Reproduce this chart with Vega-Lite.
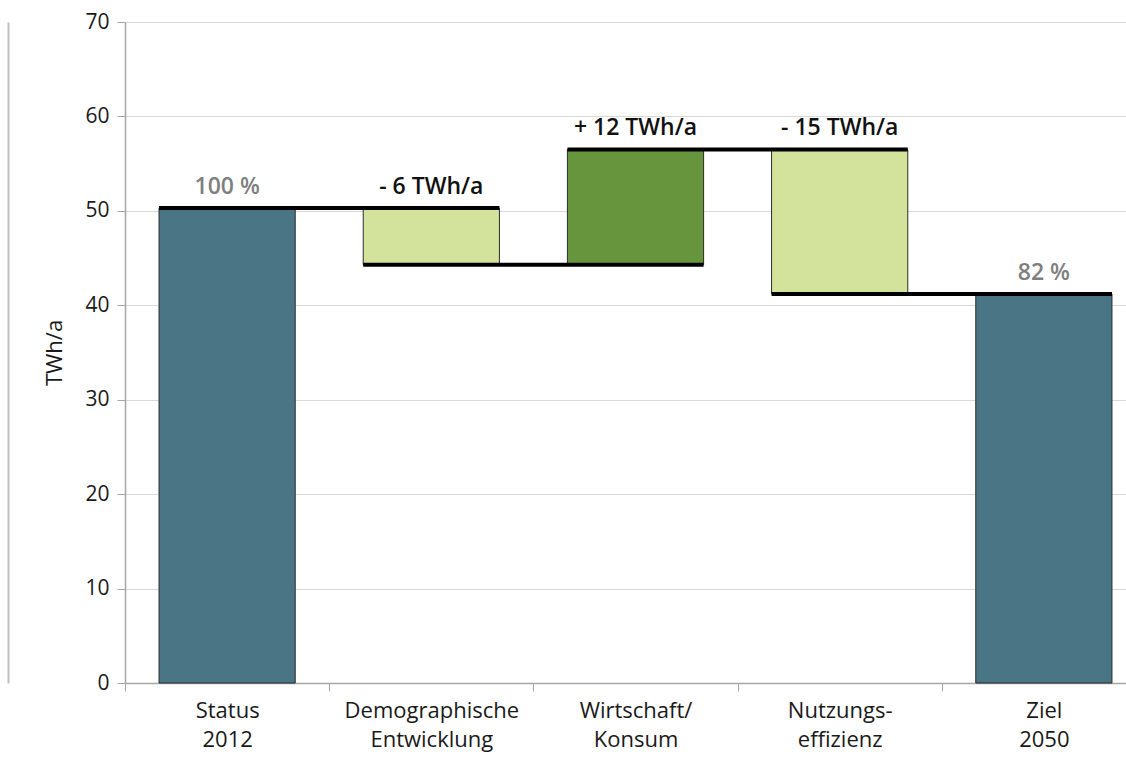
{
  "$schema": "https://vega.github.io/schema/vega-lite/v6.json",
  "width": 1001,
  "height": 661,
  "autosize": {"type": "none"},
  "padding": {"left": 125, "top": 22, "right": 0, "bottom": 95},
  "background": "white",
  "config": {
    "font": "Open Sans",
    "view": {"stroke": null},
    "axis": {"labelFont": "Open Sans", "titleFont": "Open Sans"}
  },
  "datasets": {
    "bars": [
      {"cat": "Status|2012", "low": 0, "high": 50.3, "type": "total", "note": "100 %"},
      {"cat": "Demographische|Entwicklung", "low": 44.3, "high": 50.3, "type": "decrease", "note": "- 6 TWh/a"},
      {"cat": "Wirtschaft/|Konsum", "low": 44.3, "high": 56.5, "type": "increase", "note": "+ 12 TWh/a"},
      {"cat": "Nutzungs-|effizienz", "low": 41.2, "high": 56.5, "type": "decrease", "note": "- 15 TWh/a"},
      {"cat": "Ziel|2050", "low": 0, "high": 41.2, "type": "total", "note": "82 %"}
    ],
    "links": [
      {"from": "Status|2012", "to": "Demographische|Entwicklung", "level": 50.3},
      {"from": "Demographische|Entwicklung", "to": "Wirtschaft/|Konsum", "level": 44.3},
      {"from": "Wirtschaft/|Konsum", "to": "Nutzungs-|effizienz", "level": 56.5},
      {"from": "Nutzungs-|effizienz", "to": "Ziel|2050", "level": 41.2}
    ]
  },
  "layer": [
    {
      "data": {"name": "bars"},
      "mark": {"type": "bar", "stroke": "#2b2b2b", "strokeWidth": 1},
      "encoding": {
        "x": {
          "field": "cat", "type": "nominal", "sort": null,
          "scale": {"range": [0, 1021], "paddingInner": 0.333, "paddingOuter": 0.1667},
          "axis": {
            "title": null, "labelAngle": 0,
            "labelExpr": "datum.value ? split(datum.value, '|') : ''",
            "labelFontSize": 22, "labelColor": "#1a1a1a", "labelLineHeight": 29,
            "labelPadding": 9, "bandPosition": 0, "tickOffset": -34, "labelOffset": 34,
            "tickSize": 8,
            "tickColor": "#a6a6a6", "domainColor": "#a6a6a6", "domainWidth": 1.5,
            "grid": false
          }
        },
        "y": {
          "field": "low", "type": "quantitative",
          "scale": {"domain": [0, 70], "nice": false},
          "axis": {
            "orient": "left",
            "title": "TWh/a", "titleFontSize": 22, "titleFontWeight": "normal", "titleColor": "#1a1a1a",
            "titlePadding": 18,
            "values": [0, 10, 20, 30, 40, 50, 60, 70],
            "labelFontSize": 21, "labelColor": "#1a1a1a", "labelPadding": 8,
            "tickSize": 8, "tickColor": "#a6a6a6", "domainColor": "#a6a6a6", "domainWidth": 1.5,
            "gridColor": "#d9d9d9", "gridWidth": 1
          }
        },
        "y2": {"field": "high"},
        "color": {
          "field": "type", "type": "nominal",
          "scale": {"domain": ["total", "decrease", "increase"], "range": ["#4a7585", "#d4e39c", "#66953e"]},
          "legend": null
        }
      }
    },
    {
      "data": {"name": "links"},
      "mark": {"type": "rule", "color": "black", "strokeWidth": 4},
      "encoding": {
        "x": {"field": "from", "type": "nominal", "sort": null, "bandPosition": 0},
        "x2": {"field": "to", "bandPosition": 1},
        "y": {
          "field": "level", "type": "quantitative",
          "axis": {
            "orient": "left", "offset": 117, "title": null, "labels": false, "ticks": false,
            "grid": false, "domainColor": "#bfbfbf", "domainWidth": 2
          }
        }
      }
    },
    {
      "data": {"name": "bars"},
      "mark": {"type": "text", "fontSize": 23, "fontWeight": 600, "baseline": "alphabetic", "dy": -14},
      "encoding": {
        "x": {"field": "cat", "type": "nominal", "sort": null},
        "y": {"field": "high", "type": "quantitative", "axis": null},
        "text": {"field": "note"},
        "color": {
          "field": "type", "type": "nominal",
          "scale": {"domain": ["total", "decrease", "increase"], "range": ["#7f7f7f", "#111111", "#111111"]},
          "legend": null
        }
      }
    }
  ],
  "resolve": {"scale": {"color": "independent"}, "axis": {"y": "independent"}}
}
